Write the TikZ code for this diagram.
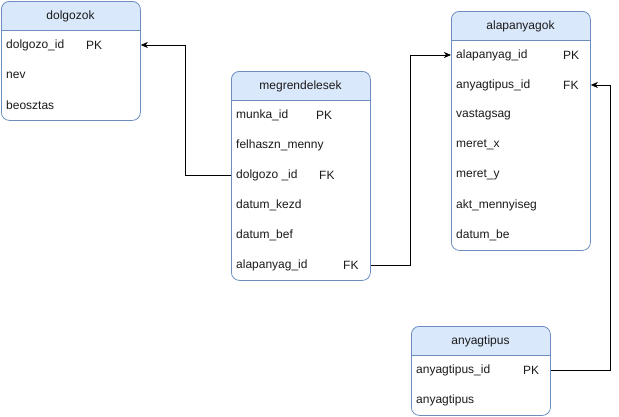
\documentclass[tikz,border=0pt]{standalone}
\usepackage{fontspec}
\setmainfont{Liberation Sans}
\usetikzlibrary{arrows.meta}
\definecolor{hdrfill}{HTML}{DAE8FC}
\definecolor{hdrline}{HTML}{6C8EBF}
\definecolor{txt}{HTML}{1A1A1A}
\newcommand\erbox[5]{%
  \begin{scope}
    \clip[rounded corners=8pt] (#2,#3) rectangle ++(139,#4);
    \fill[hdrfill] (#2,#3) rectangle ++(139,29);
  \end{scope}
  \node[tbl, minimum height=#4] (#1) at (#2,#3) {};
  \draw[hdrline, line width=0.8pt] (#2,#3+29) -- ++(139,0);
  \node[ttl] (#1-t) at (#2+69.5,#3+15) {#5};
}
\begin{document}
\begin{tikzpicture}[x=1pt,y=-1pt,
  tbl/.style={draw=hdrline, line width=0.8pt, rounded corners=8pt, minimum width=139pt, inner sep=0pt, anchor=north west},
  fld/.style={anchor=west, inner sep=0pt, font=\fontsize{12}{14}\selectfont, text=txt},
  ttl/.style={inner sep=0pt, font=\fontsize{12}{14}\selectfont, text=txt},
  conn/.style={line width=0.8pt, -{Stealth[length=7pt,width=6pt,inset=2pt]}}
]
\useasboundingbox (0,0) rectangle (619,416);

% dolgozok
\erbox{d}{1}{1}{119}{dolgozok}
\node[fld] (d1) at (6,45) {dolgozo\_id};
\node[fld] (d1k) at (86,45) {PK};
\node[fld] (d2) at (6,75) {nev};
\node[fld] (d3) at (6,105) {beosztas};

% megrendelesek
\erbox{m}{231}{71}{209}{megrendelesek}
\node[fld] (m1) at (236,115) {munka\_id};
\node[fld] (m1k) at (316,115) {PK};
\node[fld] (m2) at (236,145) {felhaszn\_menny};
\node[fld] (m3) at (236,175) {dolgozo \_id};
\node[fld] (m3k) at (319,175) {FK};
\node[fld] (m4) at (236,205) {datum\_kezd};
\node[fld] (m5) at (236,235) {datum\_bef};
\node[fld] (m6) at (236,265) {alapanyag\_id};
\node[fld] (m6k) at (343,265) {FK};

% alapanyagok
\erbox{a}{451}{11}{239}{alapanyagok}
\node[fld] (a1) at (456,55) {alapanyag\_id};
\node[fld] (a1k) at (563,55) {PK};
\node[fld] (a2) at (456,85) {anyagtipus\_id};
\node[fld] (a2k) at (563,85) {FK};
\node[fld] (a3) at (456,115) {vastagsag};
\node[fld] (a4) at (456,145) {meret\_x};
\node[fld] (a5) at (456,175) {meret\_y};
\node[fld] (a6) at (456,205) {akt\_mennyiseg};
\node[fld] (a7) at (456,235) {datum\_be};

% anyagtipus
\erbox{t}{411}{326}{89}{anyagtipus}
\node[fld] (t1) at (416,370) {anyagtipus\_id};
\node[fld] (t1k) at (523,370) {PK};
\node[fld] (t2) at (416,400) {anyagtipus};

% connectors
\draw[conn] (m.west |- m3) -- ++(-46,0) |- (d.east |- d1);
\draw[conn] (m.east |- m6) -- ++(40,0) |- (a.west |- a1);
\draw[conn] (t.east |- t1) -- ++(60,0) |- (a.east |- a2);
\end{tikzpicture}
\end{document}
